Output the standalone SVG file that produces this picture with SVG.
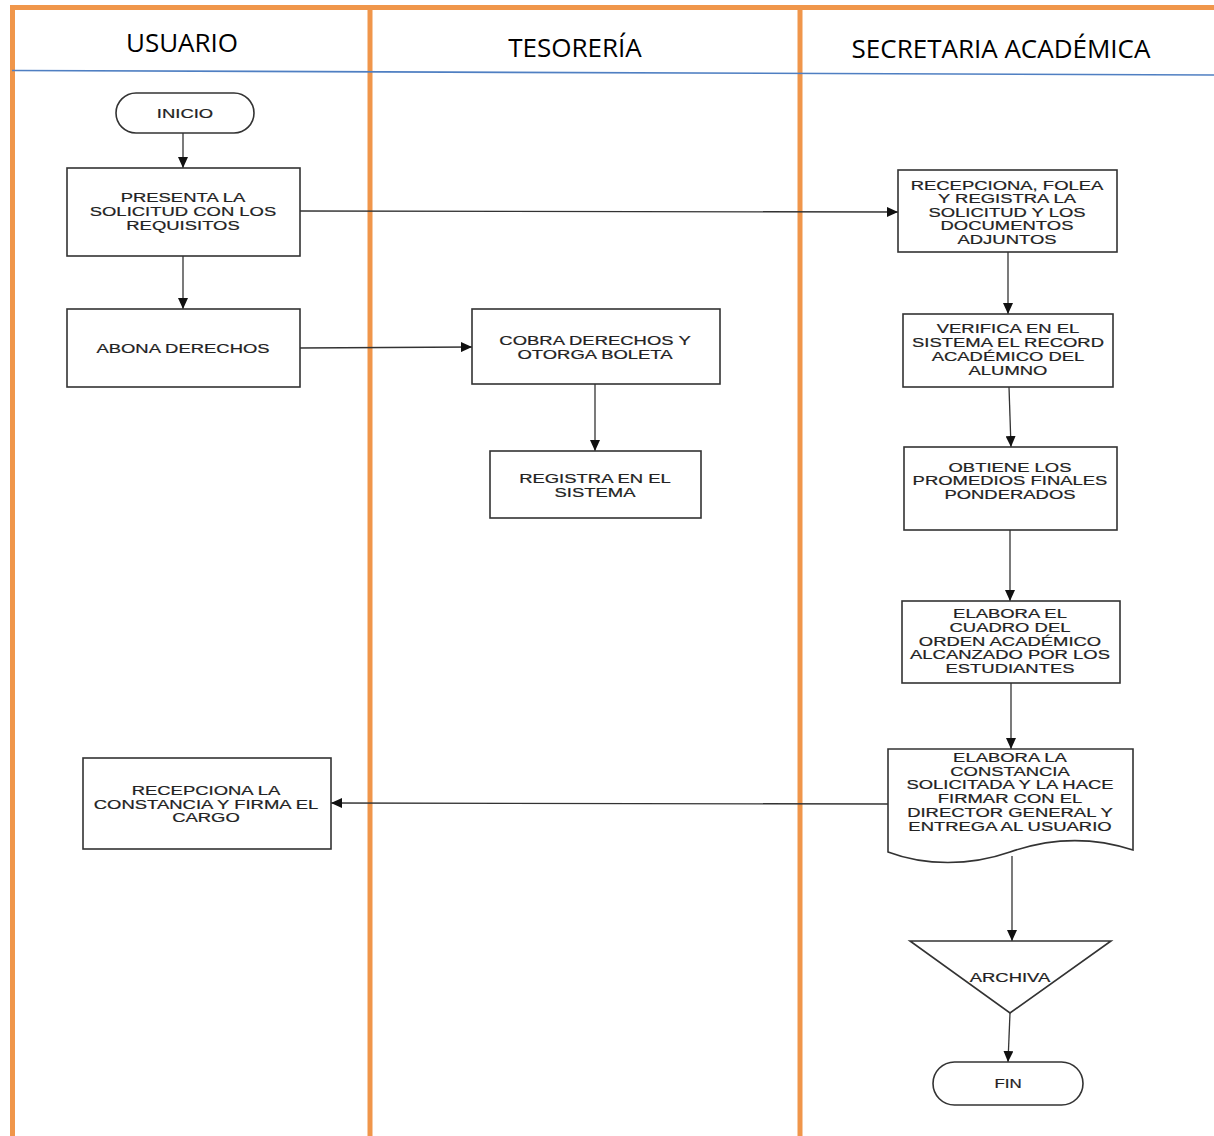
<svg xmlns="http://www.w3.org/2000/svg" width="1214" height="1136" viewBox="0 0 1214 1136">
<style>
.lane{stroke:#F0964A;stroke-width:5;fill:none}
.hdr{font-family:"Open Sans","Liberation Sans",sans-serif;font-size:26px;fill:#000;text-anchor:middle}
.box{fill:#fff;stroke:#333;stroke-width:1.6}
.t{font-family:"Liberation Sans",Arial,sans-serif;font-size:13px;fill:#222;stroke:#222;stroke-width:0.2;text-anchor:middle}
.c{stroke:#333;stroke-width:1.3;fill:none;marker-end:url(#ah)}
</style>
<defs>
<marker id="ah" markerUnits="userSpaceOnUse" markerWidth="12" markerHeight="10" refX="11" refY="5" orient="auto">
<path d="M0,0 L11,5 L0,10 Z" fill="#111"/>
</marker>
</defs>
<rect width="1214" height="1136" fill="#fff"/>
<g id="lanes">
<line class="lane" x1="10" y1="7.5" x2="1214" y2="7.5"/>
<line class="lane" x1="12.5" y1="5" x2="12.5" y2="1136"/>
<line class="lane" x1="370" y1="7" x2="370" y2="1136"/>
<line class="lane" x1="800" y1="7" x2="800" y2="1136"/>
<line x1="12" y1="70.5" x2="1214" y2="75" stroke="#4F7FC2" stroke-width="1.6"/>
<text class="hdr" x="182" y="52">USUARIO</text>
<text class="hdr" x="575" y="57">TESORERÍA</text>
<text class="hdr" x="1001" y="58">SECRETARIA ACADÉMICA</text>
</g>
<g id="connectors">
<line class="c" x1="183" y1="133" x2="183" y2="168"/>
<line class="c" x1="183" y1="256" x2="183" y2="309"/>
<line class="c" x1="300" y1="211" x2="898" y2="212"/>
<line class="c" x1="300" y1="348" x2="472" y2="347"/>
<line class="c" x1="595" y1="384" x2="595" y2="451"/>
<line class="c" x1="1008" y1="252" x2="1008" y2="314"/>
<line class="c" x1="1009" y1="387" x2="1011" y2="447"/>
<line class="c" x1="1010" y1="530" x2="1010" y2="601"/>
<line class="c" x1="1011" y1="683" x2="1011" y2="749"/>
<line class="c" x1="888" y1="804" x2="331" y2="803"/>
<line class="c" x1="1012" y1="856" x2="1012" y2="941"/>
<line class="c" x1="1010" y1="1013" x2="1008" y2="1062"/>
</g>
<g id="inicio">
<rect class="box" x="116" y="93" width="138" height="40" rx="20"/>
<g transform="translate(185,0) scale(1.42,1)"><text class="t" x="0" y="118">INICIO</text></g>
</g>
<g id="presenta">
<rect class="box" x="67" y="168" width="233" height="88"/>
<g transform="translate(183,0) scale(1.42,1)"><text class="t" x="0" y="202">PRESENTA LA</text><text class="t" x="0" y="216">SOLICITUD CON LOS</text><text class="t" x="0" y="230">REQUISITOS</text></g>
</g>
<g id="abona">
<rect class="box" x="67" y="309" width="233" height="78"/>
<g transform="translate(183,0) scale(1.42,1)"><text class="t" x="0" y="353">ABONA DERECHOS</text></g>
</g>
<g id="cobra">
<rect class="box" x="472" y="309" width="248" height="75"/>
<g transform="translate(595,0) scale(1.42,1)"><text class="t" x="0" y="345">COBRA DERECHOS Y</text><text class="t" x="0" y="359">OTORGA BOLETA</text></g>
</g>
<g id="registra">
<rect class="box" x="490" y="451" width="211" height="67"/>
<g transform="translate(595,0) scale(1.42,1)"><text class="t" x="0" y="483">REGISTRA EN EL</text><text class="t" x="0" y="497">SISTEMA</text></g>
</g>
<g id="recepciona">
<rect class="box" x="898" y="170" width="219" height="82"/>
<g transform="translate(1007,0) scale(1.42,1)"><text class="t" x="0" y="190">RECEPCIONA, FOLEA</text><text class="t" x="0" y="203.5">Y REGISTRA LA</text><text class="t" x="0" y="217">SOLICITUD Y LOS</text><text class="t" x="0" y="230.5">DOCUMENTOS</text><text class="t" x="0" y="244">ADJUNTOS</text></g>
</g>
<g id="verifica">
<rect class="box" x="903" y="314" width="210" height="73"/>
<g transform="translate(1008,0) scale(1.42,1)"><text class="t" x="0" y="333">VERIFICA EN EL</text><text class="t" x="0" y="347">SISTEMA EL RECORD</text><text class="t" x="0" y="361">ACADÉMICO DEL</text><text class="t" x="0" y="375">ALUMNO</text></g>
</g>
<g id="obtiene">
<rect class="box" x="904" y="447" width="213" height="83"/>
<g transform="translate(1010,0) scale(1.42,1)"><text class="t" x="0" y="472">OBTIENE LOS</text><text class="t" x="0" y="485.5">PROMEDIOS FINALES</text><text class="t" x="0" y="499">PONDERADOS</text></g>
</g>
<g id="elabora-cuadro">
<rect class="box" x="902" y="601" width="218" height="82"/>
<g transform="translate(1010,0) scale(1.42,1)"><text class="t" x="0" y="618">ELABORA EL</text><text class="t" x="0" y="632">CUADRO  DEL</text><text class="t" x="0" y="646">ORDEN  ACADÉMICO</text><text class="t" x="0" y="659.5">ALCANZADO POR LOS</text><text class="t" x="0" y="673">ESTUDIANTES</text></g>
</g>
<g id="elabora-constancia">
<path class="box" d="M888,749 H1133 V850 C1090,836 1050,838 1010,852 C970,866 925,866 888,852 Z"/>
<g transform="translate(1010,0) scale(1.42,1)"><text class="t" x="0" y="762">ELABORA LA</text><text class="t" x="0" y="776">CONSTANCIA</text><text class="t" x="0" y="789.5">SOLICITADA Y LA HACE</text><text class="t" x="0" y="803">FIRMAR CON EL</text><text class="t" x="0" y="817">DIRECTOR GENERAL Y</text><text class="t" x="0" y="831">ENTREGA AL USUARIO</text></g>
</g>
<g id="recepciona-constancia">
<rect class="box" x="83" y="758" width="248" height="91"/>
<g transform="translate(206,0) scale(1.42,1)"><text class="t" x="0" y="795">RECEPCIONA LA</text><text class="t" x="0" y="809">CONSTANCIA Y FIRMA EL</text><text class="t" x="0" y="822.5">CARGO</text></g>
</g>
<g id="archiva">
<path class="box" d="M910,941 H1111 L1010,1013 Z"/>
<g transform="translate(1010,0) scale(1.42,1)"><text class="t" x="0" y="982">ARCHIVA</text></g>
</g>
<g id="fin">
<rect class="box" x="933" y="1062" width="150" height="43" rx="21.5"/>
<g transform="translate(1008,0) scale(1.3,1)"><text class="t" x="0" y="1088">FIN</text></g>
</g>
</svg>
